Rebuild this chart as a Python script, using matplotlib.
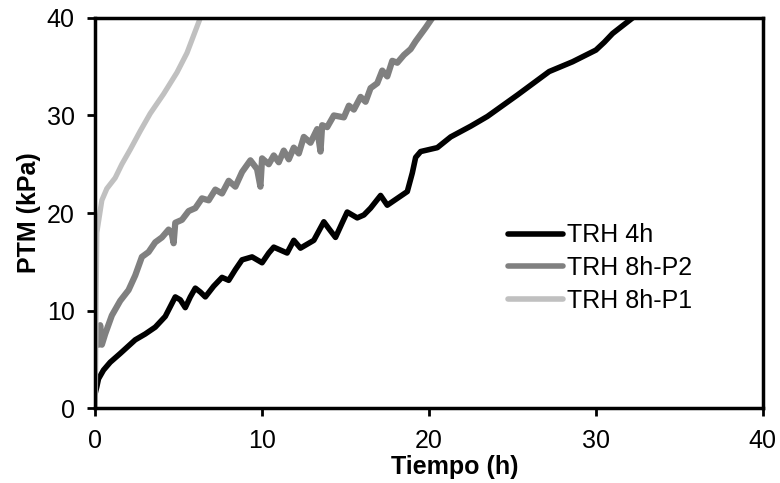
import matplotlib
matplotlib.use('Agg')
import matplotlib.pyplot as plt

plt.rcParams['font.family'] = ['Liberation Sans', 'DejaVu Sans']

# TRH 4h (black)
t_4h = [0.0, 0.1, 0.2, 0.5, 0.9, 1.5, 2.4, 3.0, 3.6, 4.2, 4.8, 5.1, 5.4, 5.7, 6.0, 6.3, 6.6,
        7.1, 7.6, 8.0, 8.4, 8.8, 9.4, 10.0, 10.4, 10.7, 11.1, 11.5, 11.9, 12.3, 12.7, 13.1, 13.7,
        14.0, 14.4, 14.8, 15.1, 15.7, 16.1, 16.5, 17.1, 17.5, 18.1, 18.7, 19.0, 19.2, 19.5, 20.5,
        21.3, 22.5, 23.5, 25.3, 27.2, 28.6, 30.0, 30.5, 31.0, 31.6, 32.2]
p_4h = [1.5, 2.2, 3.0, 3.9, 4.7, 5.6, 7.0, 7.6, 8.3, 9.4, 11.4, 11.1, 10.3, 11.4, 12.3, 11.9, 11.4,
        12.5, 13.4, 13.1, 14.2, 15.2, 15.5, 14.9, 15.9, 16.5, 16.2, 15.9, 17.2, 16.4, 16.8, 17.2, 19.1,
        18.4, 17.5, 19.0, 20.1, 19.5, 19.8, 20.5, 21.8, 20.8, 21.5, 22.2, 24.1, 25.7, 26.3, 26.7,
        27.8, 28.9, 29.9, 32.1, 34.5, 35.5, 36.7, 37.5, 38.4, 39.2, 40.0]

# TRH 8h-P2 (dark gray)
t_p2 = [0.2, 0.3, 0.4, 0.6, 1.0, 1.5, 2.0, 2.4, 2.8, 3.2, 3.6, 4.0, 4.4, 4.6, 4.7, 4.8, 5.2, 5.6,
        6.0, 6.4, 6.8, 7.2, 7.6, 8.0, 8.4, 8.8, 9.3, 9.7, 9.9, 10.0, 10.4, 10.7, 11.0, 11.3, 11.6,
        11.9, 12.2, 12.5, 12.9, 13.3, 13.5, 13.6, 13.9, 14.3, 14.9, 15.2, 15.5, 15.9, 16.2, 16.5,
        16.9, 17.2, 17.5, 17.8, 18.1, 18.5, 18.9, 19.2, 19.5, 19.8, 20.2]
p_p2 = [6.5, 8.5, 6.5, 7.6, 9.5, 11.0, 12.1, 13.6, 15.5, 16.0, 17.0, 17.5, 18.3, 17.8, 16.9, 19.0,
        19.3, 20.2, 20.5, 21.5, 21.3, 22.4, 22.0, 23.3, 22.7, 24.2, 25.4, 24.5, 22.7, 25.6, 25.0, 25.9,
        25.2, 26.4, 25.5, 26.7, 26.1, 27.8, 27.2, 28.6, 26.3, 29.0, 28.8, 30.0, 29.8, 31.0, 30.6,
        31.9, 31.4, 32.8, 33.3, 34.6, 34.0, 35.6, 35.4, 36.2, 36.8, 37.6, 38.3, 39.0, 40.0]

# TRH 8h-P1 (light gray)
t_p1 = [0.0, 0.03, 0.06, 0.1, 0.4, 0.7, 1.2, 1.6, 2.1, 2.7, 3.3, 4.1, 4.9, 5.5, 5.9, 6.3]
p_p1 = [0.0, 5.0, 12.0, 18.0, 21.3, 22.5, 23.6, 25.0, 26.5, 28.4, 30.2, 32.2, 34.4, 36.4, 38.2, 40.0]

fig = plt.figure(figsize=(7.8, 4.83), dpi=100)
ax = fig.add_axes([0.122, 0.155, 0.856, 0.808])

ax.plot(t_4h, p_4h, color='black', lw=4, label='TRH 4h', solid_capstyle='round')
ax.plot(t_p2, p_p2, color='#808080', lw=4.5, label='TRH 8h-P2', solid_capstyle='round')
ax.plot(t_p1, p_p1, color='#c0c0c0', lw=3.8, label='TRH 8h-P1', solid_capstyle='round')

ax.set_xlim(0, 40)
ax.set_ylim(0, 40)
ax.set_xticks([0, 10, 20, 30, 40])
ax.set_yticks([0, 10, 20, 30, 40])
for s in ax.spines.values():
    s.set_linewidth(2.5)
ax.tick_params(width=2, length=5.8, labelsize=18, direction='out', pad=9)

ax.set_xlabel('Tiempo (h)', fontsize=18, fontweight='bold', labelpad=4)
ax.xaxis.set_label_coords(0.539, -0.12)
ax.xaxis.label.set_va('top')
ax.set_ylabel('PTM (kPa)', fontsize=18, fontweight='bold', labelpad=4)

leg = ax.legend(loc='center left', bbox_to_anchor=(0.585, 0.359), frameon=False, fontsize=18,
                handlelength=2.2, handletextpad=0.15, labelspacing=0.35)
for h in leg.get_lines():
    h.set_linewidth(4)

fig.savefig('out.png', dpi=100)
